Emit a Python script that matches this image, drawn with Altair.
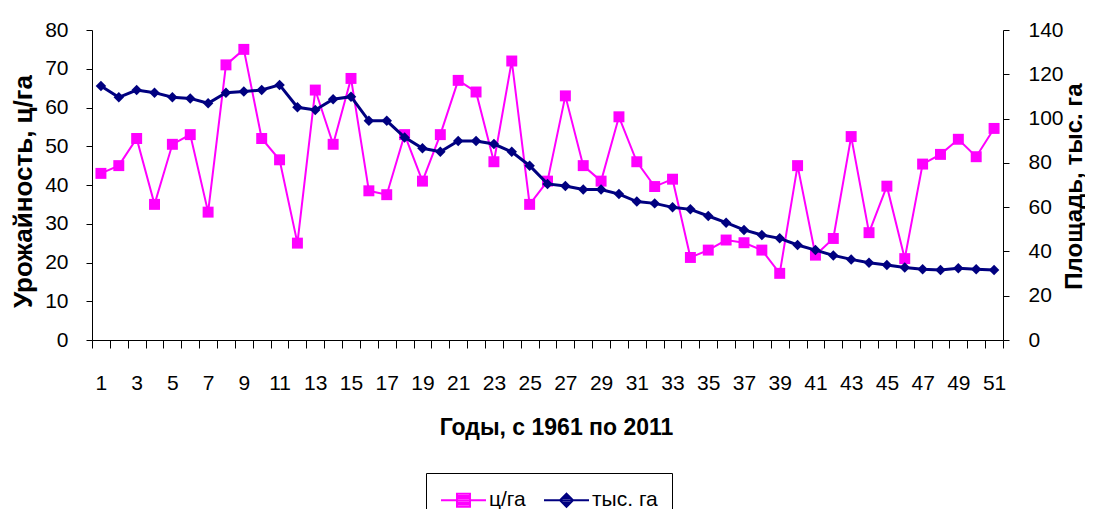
import altair as alt
import pandas as pd

years = list(range(1, 52))
yield_cga = [43, 45, 52, 35, 50.5, 53, 33, 71, 75, 52,
             46.5, 25, 64.5, 50.5, 67.5, 38.5, 37.5, 53, 41, 53,
             67, 64, 46, 72, 35, 41, 63, 45, 41, 57.6,
             46, 39.6, 41.5, 21.3, 23.2, 25.8, 25.1, 23.2, 17.2, 45,
             21.9, 26.2, 52.5, 27.7, 39.7, 21, 45.4, 47.9, 51.8, 47.3,
             54.6]
area_kha = [114.7, 109.6, 112.9, 111.7, 109.6, 109.1, 106.9, 111.7, 112.2, 112.9,
            115.2, 105.1, 103.9, 108.7, 109.9, 99, 99, 91.5, 86.6, 85,
            89.9, 89.9, 88.5, 85, 78.7, 70.5, 69.5, 68, 68, 65.9,
            62.5, 61.7, 59.9, 59, 56, 53, 49.7, 47.4, 45.9, 42.9,
            40.6, 38.2, 36.4, 34.9, 33.9, 32.7, 31.9, 31.6, 32.4, 32,
            31.6]
series_names = ["ц/га", "тыс. га"]
series_colors = ["#FF00FF", "#000080"]

df = pd.DataFrame({"n": years, "yield": yield_cga, "area": area_kha})
legend_df = pd.DataFrame({"series": series_names})

FONT = "Liberation Sans"
W, H = 911, 310

xscale = alt.Scale(type="band", paddingInner=0, paddingOuter=0)
xenc = alt.X(
    "n:O", scale=xscale, bandPosition=0.5,
    axis=alt.Axis(
        title="Годы, с 1961 по 2011",
        labelAngle=0,
        tickBand="extent",
        labelExpr="datum.value % 2 == 1 ? datum.label : ''",
        tickSize=8,
        labelPadding=24,
        labelFontSize=21,
        titleFontSize=23,
        titleFontWeight="bold",
        titleX=464, titleY=87, titleAlign="center", titleBaseline="middle",
    ),
)

left_axis = alt.Axis(
    title="Урожайность,  ц/га",
    values=list(range(0, 81, 10)),
    tickSize=6,
    labelPadding=18,
    labelFontSize=21,
    titleFontSize=26,
    titleFontWeight="bold",
    titleX=-69, titleY=161, titleAlign="center", titleBaseline="middle", titleAngle=270,
)
right_axis = alt.Axis(
    title="Площадь, тыс.  га",
    orient="right",
    values=list(range(0, 141, 20)),
    tickSize=6,
    labelPadding=19,
    labelFontSize=21,
    titleFontSize=24,
    titleFontWeight="bold",
    titleX=71, titleY=156, titleAlign="center", titleBaseline="middle", titleAngle=270,
)

base = alt.Chart(df)
yl = alt.Y("yield:Q", scale=alt.Scale(domain=[0, 80]), axis=left_axis)
yr = alt.Y("area:Q", scale=alt.Scale(domain=[0, 140]), axis=right_axis)

left = alt.layer(
    base.mark_line(color=series_colors[0], strokeWidth=2).encode(x=xenc, y=yl),
    base.mark_point(shape="square", filled=True, size=120, color=series_colors[0], opacity=1).encode(x=xenc, y=yl),
)
right = alt.layer(
    base.mark_line(color=series_colors[1], strokeWidth=3).encode(x=xenc, y=yr),
    base.mark_point(shape="diamond", filled=True, size=110, color=series_colors[1], opacity=1).encode(x=xenc, y=yr),
)

path_sq = ("M-1,0H2.75M0.335,-0.54H1.415V0.54H0.335Z"
           "M0.335,-0.36H1.415M0.335,-0.18H1.415M0.335,0.18H1.415M0.335,0.36H1.415")
path_di = ("M-1,0H2.75M0.875,-0.54L1.415,0L0.875,0.54L0.335,0Z"
           "M0.515,-0.18H1.235M0.515,0.18H1.235M0.695,-0.36H1.055M0.695,0.36H1.055")

leg = alt.Legend(
    title=None,
    orient="none",
    legendX=334,
    legendY=443,
    direction="horizontal",
    strokeColor="black",
    fillColor="white",
    padding=14,
    labelFont=FONT,
    labelFontSize=21,
    labelColor="black",
    labelOffset=23,
    symbolSize=576,
    symbolStrokeWidth=2,
    columnPadding=14,
)
legend_layer = alt.Chart(legend_df).mark_point(filled=False, opacity=1, strokeWidth=2).encode(
    color=alt.Color("series:N", scale=alt.Scale(domain=series_names, range=series_colors), legend=leg),
    shape=alt.Shape("series:N", scale=alt.Scale(domain=series_names, range=[path_sq, path_di]), legend=leg),
).transform_filter("false")

chart = alt.layer(left, right, legend_layer).resolve_scale(y="independent").properties(
    width=W,
    height=H,
    autosize=alt.AutoSizeParams(type="none"),
    padding={"left": 84, "top": 22, "right": 82, "bottom": 169},
    background="white",
).configure_axis(
    grid=False,
    domainColor="black",
    tickColor="black",
    labelColor="black",
    titleColor="black",
    labelFont=FONT,
    titleFont=FONT,
).configure_view(stroke=None)

chart.save("out.html", embed_options={"renderer": "svg", "actions": False})
